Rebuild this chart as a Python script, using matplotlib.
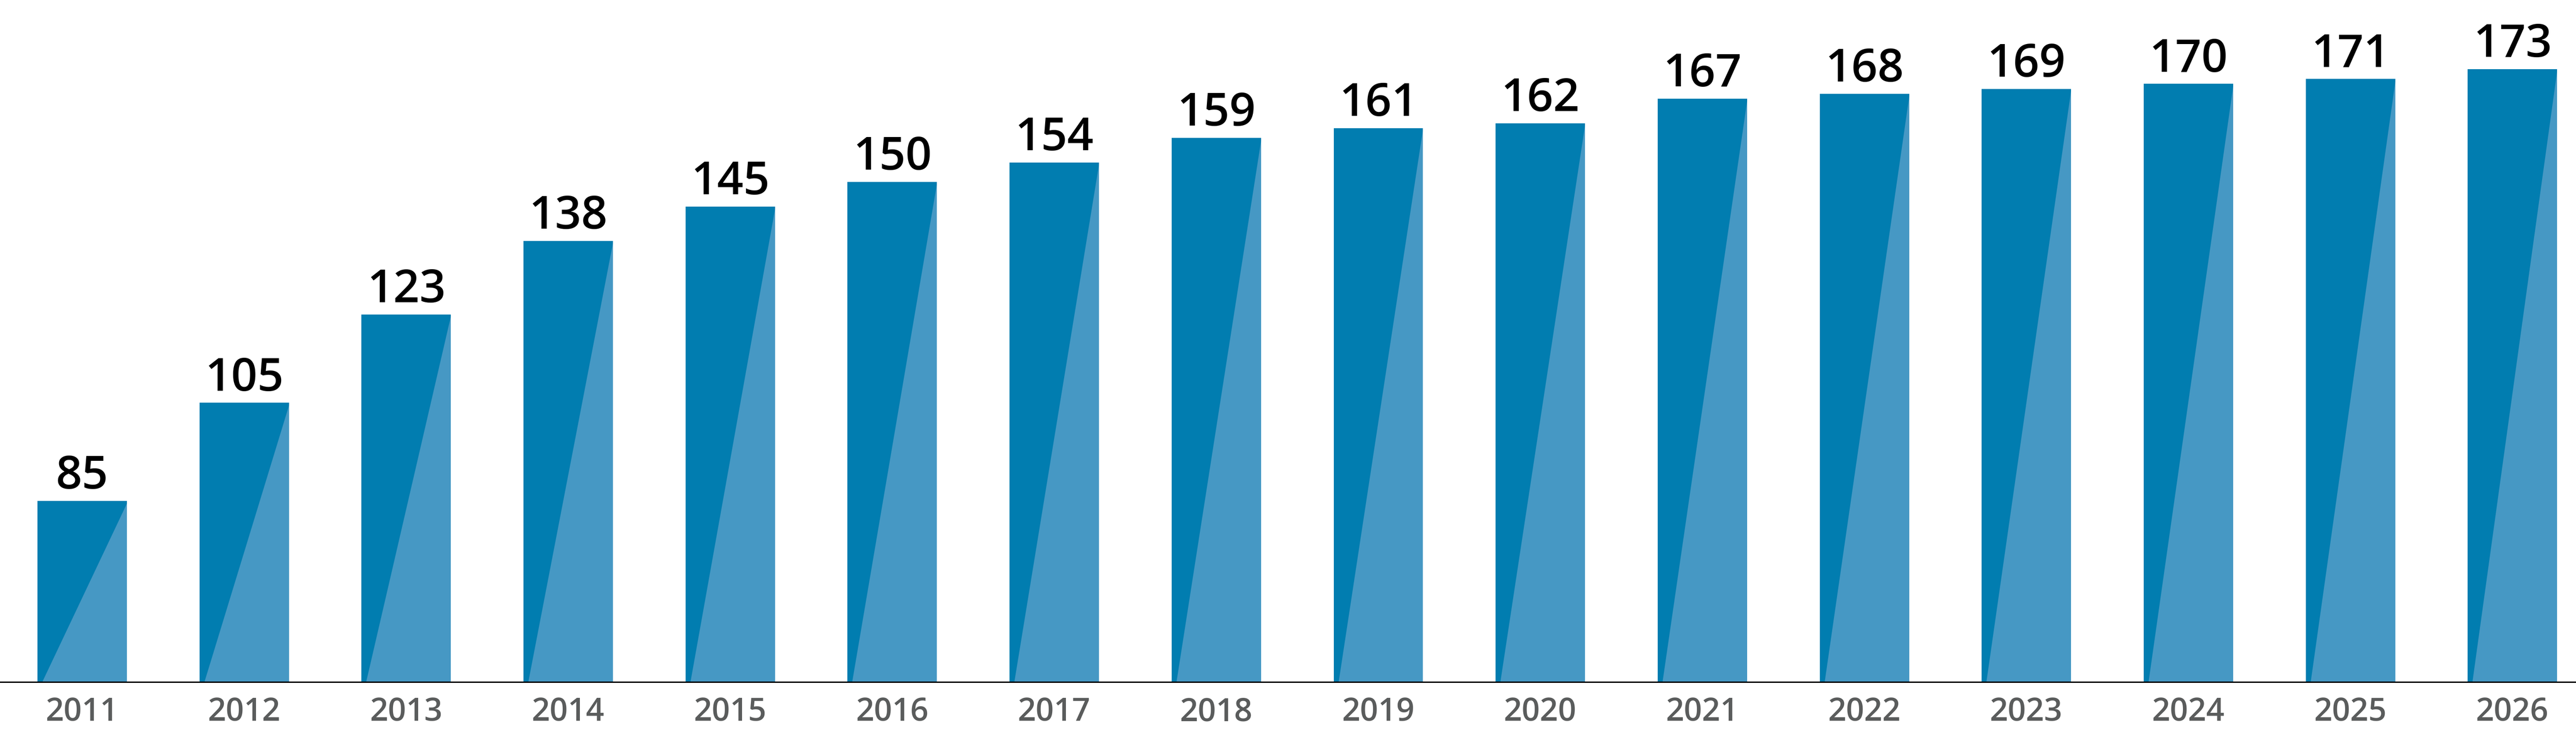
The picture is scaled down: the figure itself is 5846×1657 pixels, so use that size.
################################# Imports #################################
import matplotlib
matplotlib.use("Agg")
import matplotlib.pyplot as plt
from matplotlib.transforms import blended_transform_factory

################################# Donnees ##################################
annees = ["2011", "2012", "2013", "2014", "2015", "2016", "2017", "2018",
          "2019", "2020", "2021", "2022", "2023", "2024", "2025", "2026"]
valeurs = [85, 105, 123, 138, 145, 150, 154, 159,
           161, 162, 167, 168, 169, 170, 171, 173]

################################# Style ####################################
bleu_fonce = "#017DB0"
bleu_clair = "#4698C4"
gris_texte = "#5A5C5C"
police = ["Open Sans", "DejaVu Sans"]

y_bas = 48.1      # la base de l'axe n'est pas a zero
y_haut = 187.1
largeur = 0.552

################################# Figure ###################################
fig = plt.figure(figsize=(58.46, 16.57), dpi=100)
ax = fig.add_axes([0, 0.0658, 1, 1 - 0.0658])

x = list(range(len(valeurs)))
ax.bar(x, valeurs, width=largeur, color=bleu_fonce, bottom=0, zorder=2)

# triangle clair dans la partie droite de chaque barre
for xi, v in zip(x, valeurs):
    gauche = xi - largeur / 2
    droite = xi + largeur / 2
    ax.fill([gauche + 0.03, droite, droite],
            [y_bas, y_bas, v - 0.5],
            color=bleu_clair, lw=0, zorder=3)
    ax.annotate(str(v), xy=(xi, v), xytext=(0, 20), textcoords="offset points",
                ha="center", va="baseline", fontsize=75, fontweight="semibold",
                family=police, color="black", zorder=4)

trans = blended_transform_factory(ax.transData, ax.transAxes)
for xi, a in zip(x, annees):
    ax.text(xi, -0.0575, a, transform=trans, ha="center", va="baseline",
            fontsize=52, fontweight="semibold", family=police, color=gris_texte)

ax.set_xlim(-0.507, 15.392)
ax.set_ylim(y_bas, y_haut)
for s in ["top", "left", "right"]:
    ax.spines[s].set_visible(False)
ax.spines["bottom"].set_linewidth(2.2)
ax.spines["bottom"].set_color("black")
ax.spines["bottom"].set_zorder(5)
ax.set_xticks([])
ax.set_yticks([])

fig.savefig("out.png", dpi=100)
